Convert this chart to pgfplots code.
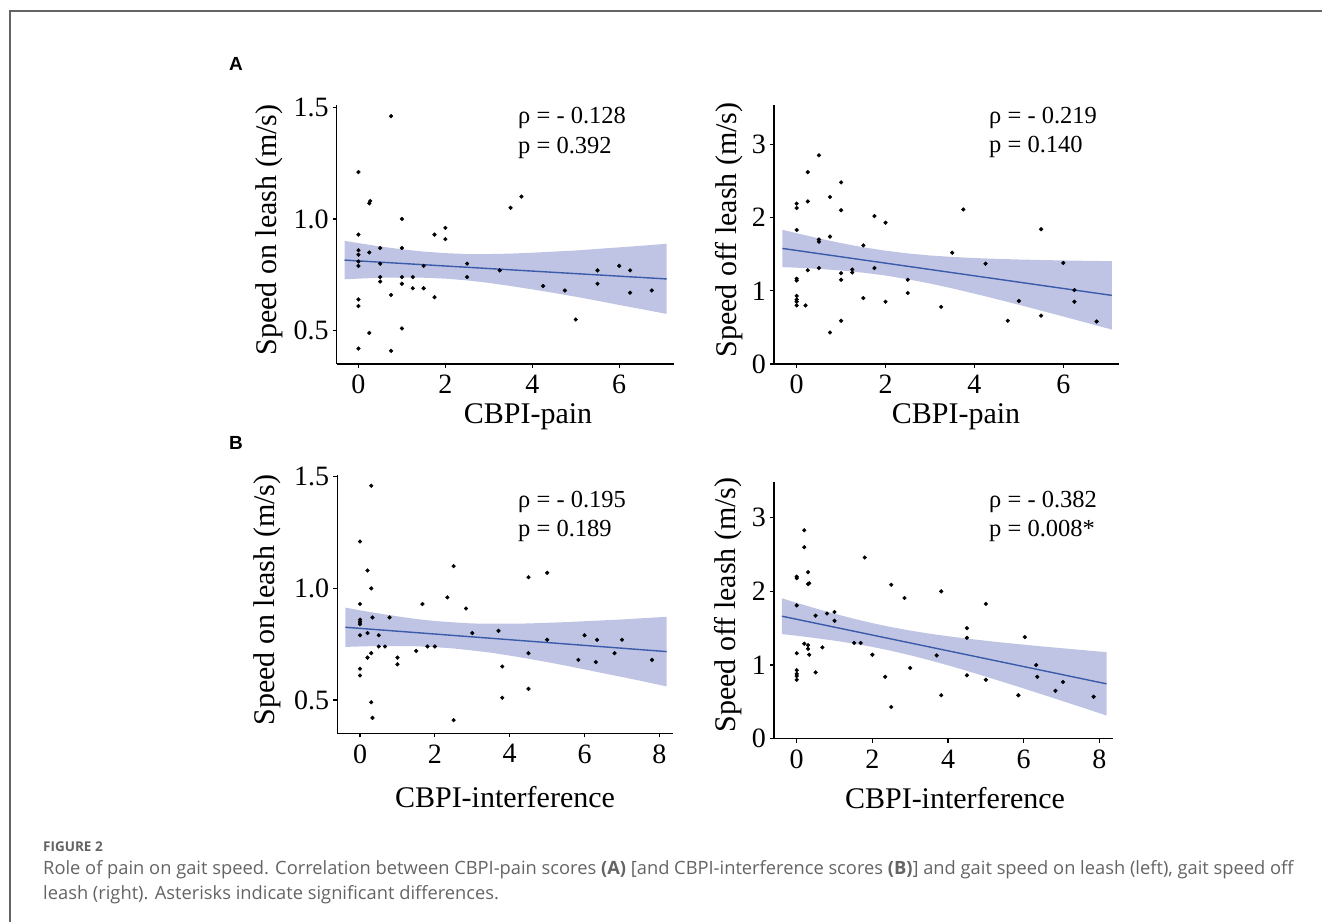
\documentclass[border=0pt]{standalone}
\usepackage{pgfplots}
\pgfplotsset{compat=1.18}
\usepackage{fontspec}
\setmainfont{Liberation Serif}
\setsansfont{Liberation Sans}
\newfontfamily\capfont{Open Sans}
\definecolor{band}{RGB}{192,196,228}
\definecolor{fitline}{RGB}{58,90,170}
\definecolor{capgray}{RGB}{100,100,100}
\definecolor{framegray}{RGB}{100,100,100}
\pgfplotsset{panel/.style={
  anchor=south west,
  scale only axis,
  axis x line*=bottom, axis y line*=left,
  axis line style={line width=1.3pt, black},
  every tick/.style={line width=1.1pt, black},
  tick align=outside, major tick length=4pt,
  /pgf/number format/assume math mode=true,
  ticklabel style={font=\fontsize{28}{28}\selectfont, inner sep=1pt},
  xticklabel style={yshift=-6pt},
  yticklabel style={xshift=-3pt},
}}
\begin{document}
\begin{tikzpicture}
\path[use as bounding box] (0pt,0pt) rectangle (1322pt,922pt);
\draw[framegray, line width=1.5pt] (10pt,0pt) -- (10pt,911pt) -- (1322pt,911pt);

% ---------- A left ----------
\begin{axis}[panel, at={(336.7pt,558pt)}, width=337.3pt, height=259pt,
  xmin=-0.5, xmax=7.26, ymin=0.351, ymax=1.51,
  xtick={0,2,4,6}, xticklabels={0,2,4,6},
  ytick={0.5,1.0,1.5}, yticklabels={0.5,1.0,1.5}]
\addplot[fill=band, draw=none] coordinates {
 (-0.32,0.902) (0,0.892) (0.5,0.877) (1,0.864) (1.5,0.854) (2,0.847) (2.5,0.843) (3,0.843)
 (3.5,0.845) (4,0.849) (4.5,0.854) (5,0.859) (5.5,0.866) (6,0.873) (6.5,0.880) (7.09,0.889)
 (7.09,0.575) (6.5,0.597) (6,0.615) (5.5,0.634) (5,0.652) (4.5,0.669) (4,0.685) (3.5,0.700)
 (3,0.714) (2.5,0.725) (2,0.733) (1.5,0.737) (1,0.738) (0.5,0.737) (0,0.733) (-0.32,0.730)} -- cycle;
\addplot[fitline, line width=1.4pt] coordinates {(-0.32,0.816) (7.09,0.7316)};
\addplot[only marks, mark=*, mark size=1.9pt, black] coordinates {
 (0.75,1.46) (0,1.21) (0.25,1.07) (0.27,1.08) (1,1.00) (0,0.93) (0,0.86) (0,0.84) (0,0.81) (0,0.79)
 (0.25,0.85) (0.5,0.87) (0.5,0.80) (0.5,0.74) (0.5,0.72) (1,0.87) (1,0.74) (1,0.71) (1.25,0.74) (1.25,0.69)
 (1.5,0.79) (1.5,0.69) (1.75,0.93) (1.75,0.65) (2,0.96) (2,0.91) (2.5,0.80) (2.5,0.74) (0.75,0.66) (0,0.64)
 (0,0.61) (0.25,0.49) (0,0.42) (0.75,0.41) (1,0.51) (3.25,0.77) (3.5,1.05) (3.75,1.10) (4.25,0.70) (4.75,0.68)
 (5,0.55) (5.5,0.77) (5.5,0.71) (6,0.79) (6.25,0.77) (6.25,0.67) (6.75,0.68)};
\end{axis}

% ---------- A right ----------
\begin{axis}[panel, at={(774pt,558pt)}, width=345.3pt, height=259pt,
  xmin=-0.51, xmax=7.26, ymin=0, ymax=3.537,
  xtick={0,2,4,6}, xticklabels={0,2,4,6},
  ytick={0,1,2,3}, yticklabels={0,1,2,3}]
\addplot[fill=band, draw=none] coordinates {
 (-0.32,1.833) (0,1.786) (0.5,1.715) (1,1.651) (1.5,1.594) (2,1.547) (2.5,1.510) (3,1.482)
 (3.5,1.462) (4,1.447) (4.5,1.436) (5,1.427) (5.5,1.420) (6,1.414) (6.5,1.409) (7.09,1.404)
 (7.09,0.470) (6.5,0.567) (6,0.649) (5.5,0.729) (5,0.809) (4.5,0.886) (4,0.961) (3.5,1.033)
 (3,1.099) (2.5,1.158) (2,1.208) (1.5,1.247) (1,1.277) (0.5,1.299) (0,1.315) (-0.32,1.323)} -- cycle;
\addplot[fitline, line width=1.4pt] coordinates {(-0.32,1.578) (7.09,0.937)};
\addplot[only marks, mark=*, mark size=1.9pt, black] coordinates {
 (0.5,2.85) (0.25,2.62) (1,2.48) (0.75,2.28) (0.25,2.22) (0,2.19) (0,2.13) (1,2.10) (1.75,2.02) (2,1.93)
 (0,1.83) (0.5,1.70) (0.5,1.67) (0.75,1.74) (1.5,1.62) (0,1.165) (0,1.14) (0.25,1.28) (0.5,1.31) (1,1.24)
 (1,1.15) (1.25,1.29) (1.25,1.25) (1.75,1.31) (2.5,1.15) (2.5,0.97) (1.5,0.90) (2,0.85) (0,0.93) (0,0.88)
 (0,0.85) (0,0.80) (0.2,0.80) (1,0.59) (0.75,0.43) (3.25,0.78) (3.5,1.52) (3.75,2.11) (4.25,1.37) (4.75,0.59)
 (5,0.86) (5.5,1.84) (5.5,0.66) (6,1.38) (6.25,1.01) (6.25,0.85) (6.75,0.58)};
\end{axis}

% ---------- B left ----------
\begin{axis}[panel, at={(337.3pt,188.7pt)}, width=336pt, height=258.3pt,
  xmin=-0.607, xmax=8.37, ymin=0.351, ymax=1.508,
  xtick={0,2,4,6,8}, xticklabels={0,2,4,6,8},
  ytick={0.5,1.0,1.5}, yticklabels={0.5,1.0,1.5}]
\addplot[fill=band, draw=none] coordinates {
 (-0.39,0.914) (0,0.902) (0.5,0.888) (1,0.875) (1.5,0.863) (2,0.854) (2.5,0.848) (3,0.843) (3.5,0.842)
 (4,0.842) (4.5,0.843) (5,0.846) (5.5,0.849) (6,0.853) (6.5,0.857) (7,0.861) (7.5,0.866) (8.19,0.873)
 (8.19,0.561) (7.5,0.586) (7,0.603) (6.5,0.620) (6,0.637) (5.5,0.654) (5,0.670) (4.5,0.685) (4,0.699)
 (3.5,0.712) (3,0.722) (2.5,0.731) (2,0.737) (1.5,0.741) (1,0.742) (0.5,0.742) (0,0.740) (-0.39,0.738)} -- cycle;
\addplot[fitline, line width=1.4pt] coordinates {(-0.39,0.826) (8.19,0.717)};
\addplot[only marks, mark=*, mark size=1.9pt, black] coordinates {
 (0.30,1.46) (0,1.21) (0.2,1.08) (0.30,1.00) (0,0.93) (0,0.86) (0,0.85) (0,0.84) (0,0.79) (0.333,0.87)
 (0.79,0.87) (0.2,0.80) (0.5,0.79) (0.5,0.74) (0.667,0.74) (0.30,0.71) (0.2,0.69) (1,0.69) (1,0.66) (0,0.64)
 (0,0.61) (0.30,0.49) (0.333,0.42) (1.5,0.72) (1.667,0.93) (1.8,0.74) (2,0.74) (2.333,0.96) (2.5,1.10) (2.5,0.41)
 (2.833,0.91) (3,0.80) (3.7,0.81) (3.8,0.65) (3.8,0.51) (4.5,1.05) (4.5,0.71) (4.5,0.55) (5,1.07) (5,0.77)
 (6,0.79) (5.833,0.68) (6.333,0.77) (6.3,0.67) (6.8,0.71) (7,0.77) (7.8,0.68)};
\end{axis}

% ---------- B right ----------
\begin{axis}[panel, at={(774pt,183.3pt)}, width=339.3pt, height=257pt,
  xmin=-0.6, xmax=8.37, ymin=0, ymax=3.489,
  xtick={0,2,4,6,8}, xticklabels={0,2,4,6,8},
  ytick={0,1,2,3}, yticklabels={0,1,2,3}]
\addplot[fill=band, draw=none] coordinates {
 (-0.39,1.906) (0,1.845) (0.5,1.769) (1,1.697) (1.5,1.630) (2,1.569) (2.5,1.515) (3,1.468) (3.5,1.427)
 (4,1.391) (4.5,1.359) (5,1.330) (5.5,1.302) (6,1.277) (6.5,1.252) (7,1.229) (7.5,1.206) (8.19,1.175)
 (8.19,0.315) (7.5,0.432) (7,0.516) (6.5,0.599) (6,0.682) (5.5,0.763) (5,0.843) (4.5,0.921) (4,0.996)
 (3.5,1.067) (3,1.133) (2.5,1.193) (2,1.246) (1.5,1.291) (1,1.331) (0.5,1.366) (0,1.398) (-0.39,1.420)} -- cycle;
\addplot[fitline, line width=1.4pt] coordinates {(-0.39,1.663) (8.19,0.745)};
\addplot[only marks, mark=*, mark size=1.9pt, black] coordinates {
 (0.2,2.83) (0.2,2.60) (0.3,2.26) (0.3,2.10) (0.33,2.11) (0,2.20) (0,2.18) (0,1.81) (0.5,1.67) (0.8,1.70)
 (1,1.72) (1,1.60) (0.2,1.29) (0.3,1.27) (0.3,1.22) (0.33,1.14) (0.68,1.24) (0,1.16) (0,0.93) (0,0.88)
 (0,0.85) (0,0.80) (0.5,0.90) (1.52,1.30) (1.69,1.30) (1.8,2.46) (2,1.14) (2.34,0.84) (2.5,0.43) (2.5,2.09)
 (2.85,1.91) (3,0.96) (3.7,1.13) (3.82,2.00) (3.82,0.59) (4.5,1.50) (4.5,1.37) (4.5,0.86) (5,1.83) (5,0.80)
 (5.86,0.59) (6.03,1.38) (6.33,1.00) (6.36,0.84) (6.84,0.65) (7.04,0.77) (7.85,0.57)};
\end{axis}

% ---------- texts ----------
\fontsize{30}{30}\selectfont
\node[rotate=90] at (269pt,692pt) {Speed on leash (m/s)};
\node[rotate=90] at (729pt,692pt) {Speed off leash (m/s)};
\node[rotate=90] at (267pt,322pt) {Speed on leash (m/s)};
\node[rotate=90] at (728pt,317pt) {Speed off leash (m/s)};
\node[anchor=base] at (528pt,498.7pt) {CBPI-pain};
\node[anchor=base] at (956pt,498.7pt) {CBPI-pain};
\node[anchor=base] at (505pt,114.3pt) {CBPI-interference};
\node[anchor=base] at (955pt,113.7pt) {CBPI-interference};

\node[anchor=base west, inner sep=0pt, font=\fontsize{24.5}{24}\selectfont] at (518pt,798.7pt) {ρ = - 0.128};
\node[anchor=base west, inner sep=0pt, font=\fontsize{24.5}{24}\selectfont] at (518pt,768.7pt) {p = 0.392};
\node[anchor=base west, inner sep=0pt, font=\fontsize{24.5}{24}\selectfont] at (989pt,798.7pt) {ρ = - 0.219};
\node[anchor=base west, inner sep=0pt, font=\fontsize{24.5}{24}\selectfont] at (989pt,769.3pt) {p = 0.140};
\node[anchor=base west, inner sep=0pt, font=\fontsize{24.5}{24}\selectfont] at (518pt,414.3pt) {ρ = - 0.195};
\node[anchor=base west, inner sep=0pt, font=\fontsize{24.5}{24}\selectfont] at (518pt,385.3pt) {p = 0.189};
\node[anchor=base west, inner sep=0pt, font=\fontsize{24.5}{24}\selectfont] at (989pt,414.3pt) {ρ = - 0.382};
\node[anchor=base west, inner sep=0pt, font=\fontsize{24.5}{24}\selectfont] at (989pt,385.3pt) {p = 0.008*};

\node[font=\sffamily\bfseries\fontsize{19}{19}\selectfont] at (236pt,858pt) {A};
\node[font=\sffamily\bfseries\fontsize{19}{19}\selectfont] at (236pt,479pt) {B};

\node[anchor=base west, inner sep=0pt, text=capgray, font=\capfont\bfseries\fontsize{13.5}{14}\selectfont] at (43pt,71pt) {FIGURE 2};
\node[anchor=base west, inner sep=0pt, text=capgray, font=\capfont\fontsize{18.3}{19}\selectfont] at (43pt,48pt) {Role of pain on gait speed. Correlation between CBPI-pain scores \textbf{(A)} [and CBPI-interference scores \textbf{(B)}] and gait speed on leash (left), gait speed off};
\node[anchor=base west, inner sep=0pt, text=capgray, font=\capfont\fontsize{18.3}{19}\selectfont] at (43pt,23pt) {leash (right). Asterisks indicate significant differences.};
\end{tikzpicture}
\end{document}
